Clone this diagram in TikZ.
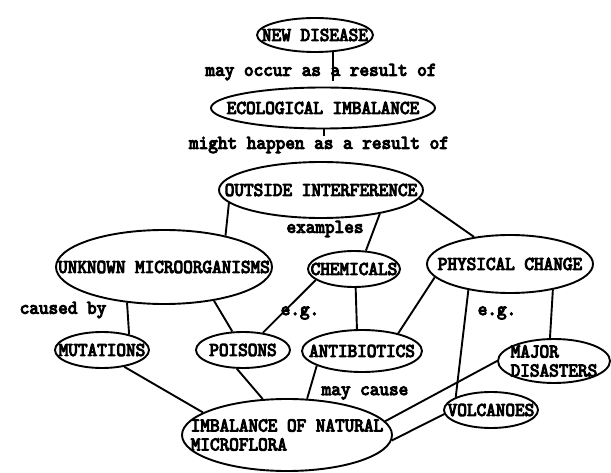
\documentclass[tikz,border=0pt]{standalone}
\usepackage{fontspec}
\newfontfamily\mapfont[FakeStretch=0.94, FakeBold=5]{lmmono10-regular.otf}
\usetikzlibrary{shapes.geometric}

\begin{document}
\begin{tikzpicture}[
  x=1pt, y=-1pt,
  font=\mapfont\fontsize{19.5}{19}\selectfont,
  concept node/.style 2 args={draw, ellipse, line width=1.9pt, minimum width=#1, minimum height=#2, inner sep=0pt},
  link text/.style={inner sep=1pt},
  link/.style={line width=1.9pt}
]
  \useasboundingbox (0,0) rectangle (611,473);

  % Concepts
  \node[concept node={116}{34}, label=center:NEW DISEASE] (disease) at (315,35) {};
  \node[concept node={224}{41}, label=center:ECOLOGICAL IMBALANCE] (ecology) at (323,108) {};
  \node[concept node={204}{56}, label=center:OUTSIDE INTERFERENCE] (outside) at (321,190) {};
  \node[concept node={216}{74}, label=center:UNKNOWN MICROORGANISMS] (unknown) at (164,267) {};
  \node[concept node={92}{36}, label=center:CHEMICALS] (chemicals) at (354,269) {};
  \node[concept node={166}{58}, label=center:PHYSICAL CHANGE] (physical) at (510,264) {};
  \node[concept node={94}{36}, label=center:MUTATIONS] (mutations) at (102,350) {};
  \node[concept node={94}{36}, label=center:POISONS] (poisons) at (243,350) {};
  \node[concept node={120}{42}, label=center:ANTIBIOTICS] (antibiotics) at (362,351) {};
  \node[concept node={112}{44}, label={[align=left]center:MAJOR\\DISASTERS}] (disasters) at (554,361) {};
  \node[concept node={94}{36}, label=center:VOLCANOES] (volcanoes) at (491,410) {};
  \node[concept node={210}{72}, label={[align=left]center:IMBALANCE OF NATURAL\\MICROFLORA}] (microflora) at (287,435) {};

  % Linking words
  \node[link text] (occur)    at (321,72)  {may occur as a result of};
  \node[link text] (happen)   at (319,145) {might happen as a result of};
  \node[link text] (examples) at (325,229) {examples};
  \node[link text] (causedby) at (63,310)  {caused by};
  \node[link text] (eg1)      at (300,313) {e.g.};
  \node[link text] (eg2)      at (497,313) {e.g.};
  \node[link text] (maycause) at (365,393) {may cause};

  % Lines that stop at the linking words
  \draw[link] (disease.-44) -- (disease.-44 |- occur.south);
  \draw[link] (ecology.-88) -- (ecology.-88 |- happen.north);

  % Connect the concepts
  \foreach \from/\to in {
    outside.188/unknown.27, outside.-22/chemicals.57, outside.-5/physical.143,
    unknown.224/mutations.30, unknown.-34/poisons.120,
    chemicals.196/poisons.41, chemicals.-85/antibiotics.103,
    physical.190/antibiotics.26, physical.212/volcanoes.160, physical.-31/disasters.100,
    mutations.-37/microflora.165, poisons.252/microflora.124, antibiotics.198/microflora.61,
    microflora.8/disasters.180, microflora.-3/volcanoes.185} {
    \draw[link] (\from) -- (\to);
  }
\end{tikzpicture}
\end{document}
